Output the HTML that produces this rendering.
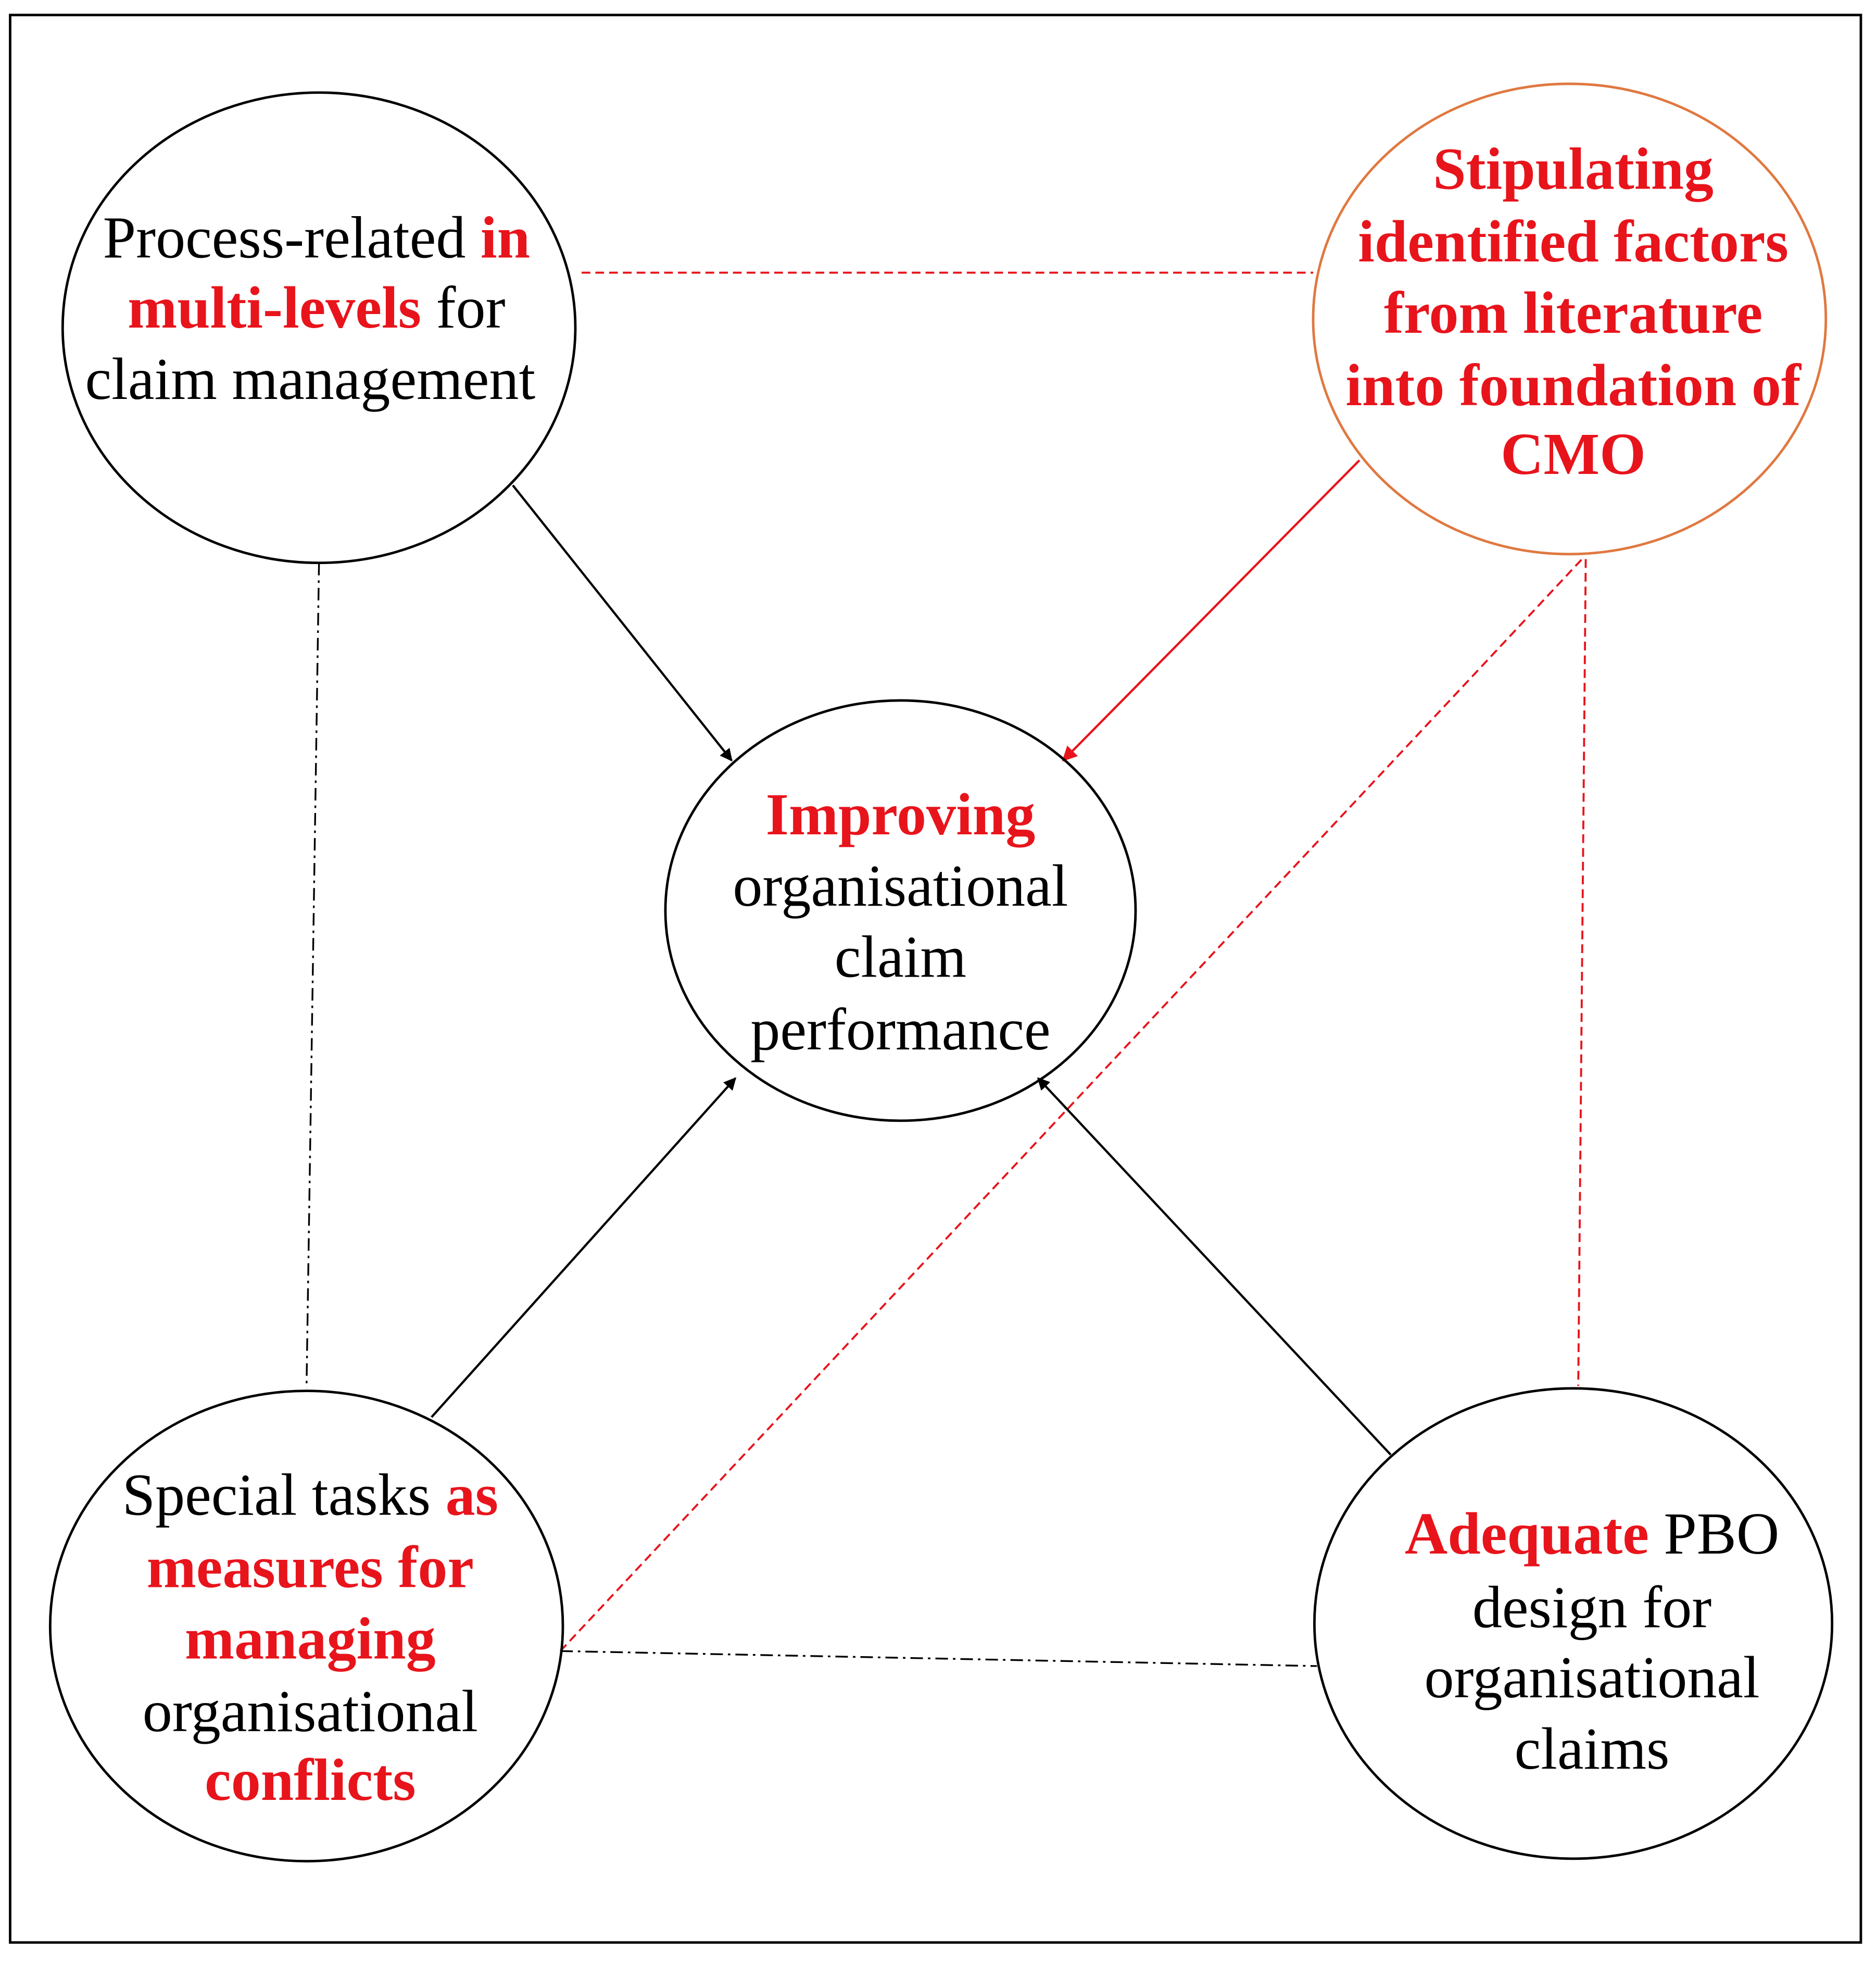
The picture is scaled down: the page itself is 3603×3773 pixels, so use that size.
<!DOCTYPE html>
<html><head><meta charset="utf-8"><style>
html,body{margin:0;padding:0;background:#fff;}
svg{display:block;}
text{font-family:"Liberation Serif",serif;font-size:47.5px;text-anchor:middle;fill:#000;}
.r{fill:#e8141c;font-weight:bold;}
</style></head><body>
<svg width="3603" height="3773" viewBox="0 0 1500 1571" xmlns="http://www.w3.org/2000/svg">
<defs>
<marker id="ab" markerWidth="10" markerHeight="10" refX="9" refY="5" orient="auto" markerUnits="userSpaceOnUse" viewBox="0 0 10 10"><path d="M0,0 L10,5 L0,10 z" fill="#000"/></marker>
<marker id="ar" markerWidth="12" markerHeight="12" refX="9" refY="5" orient="auto" markerUnits="userSpaceOnUse" viewBox="0 0 10 10"><path d="M0,0 L10,5 L0,10 z" fill="#e8141c"/></marker>
</defs>
<rect x="8" y="12" width="1480" height="1541" fill="none" stroke="#000" stroke-width="2"/>
<line x1="465" y1="218" x2="1050" y2="218" stroke="#e8141c" stroke-width="1.6" stroke-dasharray="7,4"/>
<line x1="410" y1="388" x2="585" y2="608" stroke="#000" stroke-width="1.8" marker-end="url(#ab)"/>
<line x1="1087" y1="368" x2="850" y2="608" stroke="#e8141c" stroke-width="1.8" marker-end="url(#ar)"/>
<line x1="255" y1="450" x2="245" y2="1110" stroke="#000" stroke-width="1.4" stroke-dasharray="10,4,2,4"/>
<line x1="345" y1="1133" x2="588" y2="862" stroke="#000" stroke-width="1.8" marker-end="url(#ab)"/>
<line x1="448" y1="1320" x2="1265" y2="447" stroke="#e8141c" stroke-width="1.6" stroke-dasharray="7,4"/>
<line x1="1268" y1="447" x2="1262" y2="1108" stroke="#e8141c" stroke-width="1.6" stroke-dasharray="7,4"/>
<line x1="1112" y1="1163" x2="830" y2="862" stroke="#000" stroke-width="1.8" marker-end="url(#ab)"/>
<line x1="448" y1="1320" x2="1053" y2="1332" stroke="#000" stroke-width="1.4" stroke-dasharray="10,4,2,4"/>
<ellipse cx="255" cy="262" rx="205" ry="188" fill="none" stroke="#000" stroke-width="2"/>
<ellipse cx="1255" cy="255" rx="205" ry="188" fill="none" stroke="#e07840" stroke-width="2"/>
<ellipse cx="720" cy="728" rx="188" ry="168" fill="none" stroke="#000" stroke-width="2"/>
<ellipse cx="245" cy="1300" rx="205" ry="188" fill="none" stroke="#000" stroke-width="2"/>
<ellipse cx="1258" cy="1298" rx="207" ry="188" fill="none" stroke="#000" stroke-width="2"/>
<text x="253" y="206">Process-related <tspan class="r">in</tspan></text>
<text x="253" y="262"><tspan class="r">multi-levels</tspan> for</text>
<text x="248" y="319">claim management</text>
<text class="r" x="1258" y="151">Stipulating</text>
<text class="r" x="1258" y="209">identified factors</text>
<text class="r" x="1258" y="266">from literature</text>
<text class="r" x="1258" y="324">into foundation of</text>
<text class="r" x="1258" y="379">CMO</text>
<text class="r" x="720" y="667">Improving</text>
<text x="720" y="724">organisational</text>
<text x="720" y="781">claim</text>
<text x="720" y="839">performance</text>
<text x="248" y="1211">Special tasks <tspan class="r">as</tspan></text>
<text class="r" x="248" y="1269">measures  for</text>
<text class="r" x="248" y="1326">managing</text>
<text x="248" y="1384">organisational</text>
<text class="r" x="248" y="1439">conflicts</text>
<text x="1273" y="1242"><tspan class="r">Adequate</tspan> PBO</text>
<text x="1273" y="1301">design for</text>
<text x="1273" y="1357">organisational</text>
<text x="1273" y="1414">claims</text>
</svg>
</body></html>
